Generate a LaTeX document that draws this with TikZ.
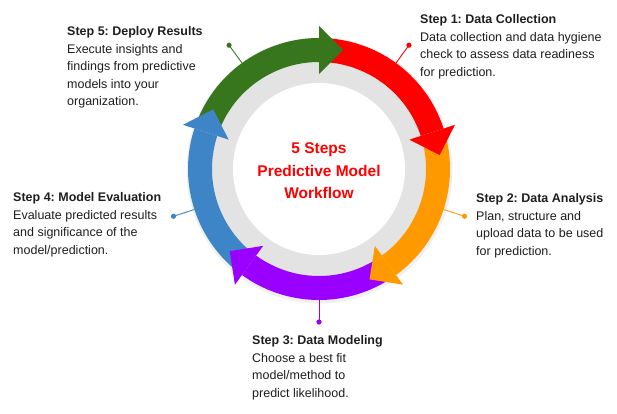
\documentclass[tikz,border=0pt]{standalone}
\usepackage{fontspec}
\setmainfont{Liberation Sans}
\frenchspacing

\definecolor{stepred}{HTML}{FF0000}
\definecolor{steporange}{HTML}{FF9900}
\definecolor{steppurple}{HTML}{9900FF}
\definecolor{stepblue}{HTML}{3D85C6}
\definecolor{stepgreen}{HTML}{38761D}
\definecolor{ringgray}{HTML}{E3E3E3}
\definecolor{bodytext}{HTML}{1E1E1E}

\tikzset{
  steptext/.style={anchor=north west, inner sep=0pt, align=left, text=bodytext,
    font=\fontsize{12.5}{17.5}\selectfont},
  titletext/.style={inner sep=0pt, align=center, text=stepred,
    font=\bfseries\fontsize{15.5}{22.5}\selectfont},
}

\begin{document}
\begin{tikzpicture}[x=1pt,y=1pt]

    \useasboundingbox (0,0) rectangle (617,-414);

    \pgfmathsetmacro{\Rout}{131}
    \pgfmathsetmacro{\Rin}{107}
    \pgfmathsetmacro{\Rdot}{153}

    \coordinate (O) at (319,-169);

    \begin{scope}[shift={(O)}]
      % soft shadow and grey ring behind the arrows
      \fill[black!6] (0.5,-1.5) circle (\Rout+2);
      \fill[ringgray] (0,0) circle (\Rin);
      \fill[white] (0,0) circle (86);

      % bands first, heads on top
      \foreach \base/\col in
      {18/stepred,-54/steporange,-126/steppurple,-198/stepblue,-270/stepgreen}
      {
        \fill[\col] (\base+68:\Rout)
          arc[start angle=\base+68, end angle=\base, radius=\Rout]
          -- (\base:\Rin)
          arc[start angle=\base, end angle=\base+68, radius=\Rin] -- cycle;
      }
      \foreach \base/\col in
      {18/stepred,-54/steporange,-126/steppurple,-198/stepblue,-270/stepgreen}
      {
        \fill[\col] (\base:95) -- (\base:143) -- (\base-11.4:121.4) -- cycle;
      }

      % pins
      \foreach \ang/\col [count=\i] in
      {54/stepred,-18/steporange,-90/steppurple,-162/stepblue,126/stepgreen}
      {
        \coordinate (r\i) at (\ang:\Rout);
        \coordinate (d\i) at (\ang:\Rdot);
        \draw[\col, line width=0.9pt] (r\i) -- (d\i);
        \fill[\col] (d\i) circle (2.6);
      }
    \end{scope}

    \node[titletext] (title) at (319,-171) {5 Steps\\Predictive Model\\Workflow};

    \node[steptext] (s1) at (420,-14.5)
      {\textbf{Step 1: Data Collection}\\Data collection and data hygiene\\check to assess data readiness\\for prediction.};
    \node[steptext] (s2) at (476,-193.5)
      {\textbf{Step 2: Data Analysis}\\Plan, structure and\\upload data to be used\\for prediction.};
    \node[steptext] (s3) at (252,-335.5)
      {\textbf{Step 3: Data Modeling}\\Choose a best fit\\model/method to\\predict likelihood.};
    \node[steptext] (s4) at (13,-192.5)
      {\textbf{Step 4: Model Evaluation}\\Evaluate predicted results\\and significance of the\\model/prediction.};
    \node[steptext] (s5) at (67,-26.5)
      {\textbf{Step 5: Deploy Results}\\Execute insights and\\findings from predictive\\models into your\\organization.};

  \end{tikzpicture}
\end{document}
